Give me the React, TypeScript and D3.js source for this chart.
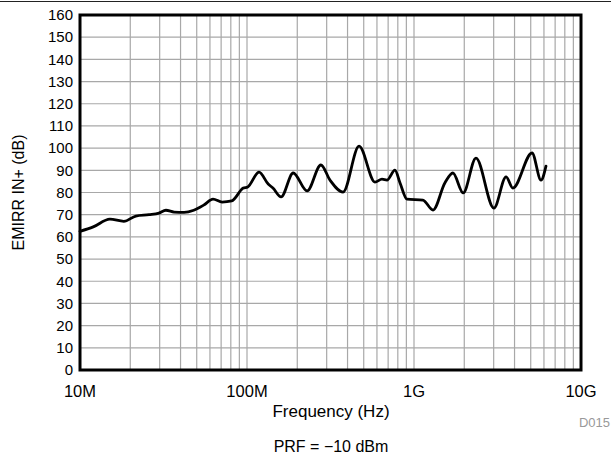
import React from "react";
import * as d3 from "d3";

const freqHz = [
  1.0e7, 1.2e7, 1.51e7, 1.83e7, 2.16e7, 2.59e7, 2.97e7, 3.27e7, 3.66e7, 4.2e7,
  4.8e7, 5.5e7, 6.26e7, 7.1e7, 8.1e7, 9.5e7, 1.01e8, 1.18e8, 1.34e8, 1.43e8,
  1.6e8, 1.89e8, 2.29e8, 2.77e8, 3.14e8, 3.76e8, 4.69e8, 5.84e8, 6.43e8, 6.89e8,
  7.69e8, 8.25e8, 9.08e8, 1.13e9, 1.3e9, 1.53e9, 1.71e9, 1.97e9, 2.35e9, 3.01e9,
  3.56e9, 3.91e9, 5.09e9, 5.76e9, 6.17e9,
];
const emirrDb = [
  62.5, 64.5, 68, 67, 69.4, 70, 70.7, 72, 71.2, 71,
  72, 74.3, 77, 75.7, 76.2, 82, 82.5, 89.2, 83.8, 82,
  78, 88.8, 80.7, 92.4, 85.6, 80.2, 100.9, 84.7, 86, 85.6,
  90.1, 84.3, 77, 76.6, 72.1, 84.3, 88.8, 79.8, 95.5, 73,
  87, 82, 97.8, 85.6, 91.9,
];
const yTicks = d3.range(0, 161, 10);
const xTickValues = [1e7, 1e8, 1e9, 1e10];
const xTickLabels = ["10M", "100M", "1G", "10G"];

const W = 611;
const H = 460;
const L = 80, R = 581, T = 15, B = 370;

export default function App() {
  const x = d3.scaleLog().domain([1e7, 1e10]).range([L, R]);
  const y = d3.scaleLinear().domain([0, 160]).range([B, T]);
  const minor: number[] = [];
  for (let e = 7; e < 10; e++) {
    for (let m = 2; m <= 9; m++) minor.push(m * Math.pow(10, e));
  }
  const majorInner = [1e8, 1e9];
  const pts: [number, number][] = freqHz.map((f, i) => [f, emirrDb[i]]);
  const line = d3
    .line<[number, number]>()
    .x((d) => x(d[0]))
    .y((d) => y(d[1]))
    .curve(d3.curveMonotoneX);
  const font = "'Liberation Sans', Arial, Helvetica, sans-serif";
  return (
    <svg width={W} height={H} style={{ position: "absolute", left: 0, top: 0 }} fontFamily={font}>
      <rect x={0} y={0} width={W} height={H} fill="#fff" />
      <line x1={0} x2={W} y1={1.5} y2={1.5} stroke="#222" strokeWidth={1} />
      {yTicks.map((t) => (
        <line key={"h" + t} x1={L} x2={R} y1={y(t)} y2={y(t)} stroke="#a8a8a8" strokeWidth={1.2} />
      ))}
      {minor.concat(majorInner).map((f) => (
        <line key={"v" + f} x1={x(f)} x2={x(f)} y1={T} y2={B} stroke="#a8a8a8" strokeWidth={1.2} />
      ))}
      <path d={line(pts) || ""} fill="none" stroke="#000" strokeWidth={2.8} strokeLinejoin="round" strokeLinecap="round" />
      <rect x={L} y={T} width={R - L} height={B - T} fill="none" stroke="#000" strokeWidth={3} />
      {yTicks.map((t) => (
        <text key={"yl" + t} x={73} y={y(t) + 5.3} fontSize={15} textAnchor="end" fill="#000">
          {t}
        </text>
      ))}
      {xTickValues.map((v, i) => (
        <text key={"xl" + v} x={x(v)} y={397} fontSize={16.5} textAnchor="middle" fill="#000">
          {xTickLabels[i]}
        </text>
      ))}
      <text x={331} y={417} fontSize={17} textAnchor="middle" fill="#000">
        Frequency (Hz)
      </text>
      <text x={331} y={452} fontSize={16} textAnchor="middle" fill="#000">
        PRF = −10 dBm
      </text>
      <text x={610} y={427} fontSize={13} textAnchor="end" fill="#999">
        D015
      </text>
      <text transform={`translate(24,${(T + B) / 2}) rotate(-90)`} fontSize={16} textAnchor="middle" fill="#000">
        EMIRR IN+ (dB)
      </text>
    </svg>
  );
}
